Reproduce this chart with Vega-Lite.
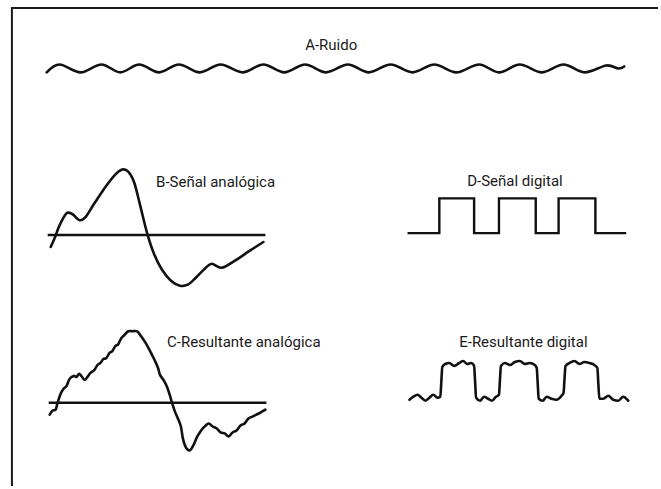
{
  "$schema": "https://vega.github.io/schema/vega-lite/v6.json",
  "width": 661,
  "height": 489,
  "autosize": {"type": "fit", "contains": "padding"},
  "padding": 0,
  "background": "white",
  "config": {"view": {"stroke": null}},
  "datasets": {
    "frame": [
      {"s": "F", "o": 1, "x": 12, "y": 489},
      {"s": "F", "o": 2, "x": 12, "y": 8},
      {"s": "F", "o": 3, "x": 661, "y": 8}
    ],
    "smooth": [
      {"s": "A", "o": 1, "x": 47, "y": 73},
      {"s": "A", "o": 2, "x": 60, "y": 65},
      {"s": "A", "o": 3, "x": 81, "y": 73},
      {"s": "A", "o": 4, "x": 102, "y": 65},
      {"s": "A", "o": 5, "x": 121, "y": 73},
      {"s": "A", "o": 6, "x": 140, "y": 65},
      {"s": "A", "o": 7, "x": 160, "y": 73},
      {"s": "A", "o": 8, "x": 180, "y": 65},
      {"s": "A", "o": 9, "x": 201, "y": 73},
      {"s": "A", "o": 10, "x": 222, "y": 65},
      {"s": "A", "o": 11, "x": 244, "y": 73},
      {"s": "A", "o": 12, "x": 265, "y": 65},
      {"s": "A", "o": 13, "x": 286, "y": 73},
      {"s": "A", "o": 14, "x": 307, "y": 65},
      {"s": "A", "o": 15, "x": 328, "y": 73},
      {"s": "A", "o": 16, "x": 350, "y": 65},
      {"s": "A", "o": 17, "x": 371, "y": 73},
      {"s": "A", "o": 18, "x": 393, "y": 65},
      {"s": "A", "o": 19, "x": 415, "y": 73},
      {"s": "A", "o": 20, "x": 437, "y": 65},
      {"s": "A", "o": 21, "x": 459, "y": 73},
      {"s": "A", "o": 22, "x": 482, "y": 65},
      {"s": "A", "o": 23, "x": 502, "y": 73},
      {"s": "A", "o": 24, "x": 523, "y": 65},
      {"s": "A", "o": 25, "x": 545, "y": 73},
      {"s": "A", "o": 26, "x": 567, "y": 65},
      {"s": "A", "o": 27, "x": 588, "y": 73},
      {"s": "A", "o": 28, "x": 610, "y": 66},
      {"s": "A", "o": 29, "x": 622, "y": 69},
      {"s": "A", "o": 30, "x": 628, "y": 67},

      {"s": "B", "o": 1, "x": 51, "y": 249},
      {"s": "B", "o": 2, "x": 55, "y": 240},
      {"s": "B", "o": 3, "x": 60, "y": 227},
      {"s": "B", "o": 4, "x": 67, "y": 215},
      {"s": "B", "o": 5, "x": 73, "y": 216},
      {"s": "B", "o": 6, "x": 80, "y": 222},
      {"s": "B", "o": 7, "x": 86, "y": 219},
      {"s": "B", "o": 8, "x": 95, "y": 205},
      {"s": "B", "o": 9, "x": 105, "y": 190},
      {"s": "B", "o": 10, "x": 115, "y": 177},
      {"s": "B", "o": 11, "x": 123, "y": 171},
      {"s": "B", "o": 12, "x": 129, "y": 173},
      {"s": "B", "o": 13, "x": 135, "y": 184},
      {"s": "B", "o": 14, "x": 141, "y": 207},
      {"s": "B", "o": 15, "x": 148, "y": 235},
      {"s": "B", "o": 16, "x": 155, "y": 256},
      {"s": "B", "o": 17, "x": 163, "y": 272},
      {"s": "B", "o": 18, "x": 172, "y": 283},
      {"s": "B", "o": 19, "x": 181, "y": 288},
      {"s": "B", "o": 20, "x": 189, "y": 287},
      {"s": "B", "o": 21, "x": 197, "y": 280},
      {"s": "B", "o": 22, "x": 206, "y": 271},
      {"s": "B", "o": 23, "x": 213, "y": 266},
      {"s": "B", "o": 24, "x": 223, "y": 270},
      {"s": "B", "o": 25, "x": 236, "y": 263},
      {"s": "B", "o": 26, "x": 251, "y": 253},
      {"s": "B", "o": 27, "x": 265, "y": 244},

      {"s": "C", "o": 1, "x": 50, "y": 418},
      {"s": "C", "o": 2, "x": 53, "y": 414},
      {"s": "C", "o": 3, "x": 56, "y": 413},
      {"s": "C", "o": 4, "x": 58, "y": 406},
      {"s": "C", "o": 5, "x": 61, "y": 397},
      {"s": "C", "o": 6, "x": 64, "y": 392},
      {"s": "C", "o": 7, "x": 67, "y": 389},
      {"s": "C", "o": 8, "x": 70, "y": 382},
      {"s": "C", "o": 9, "x": 74, "y": 379},
      {"s": "C", "o": 10, "x": 77, "y": 380},
      {"s": "C", "o": 11, "x": 80, "y": 377},
      {"s": "C", "o": 12, "x": 85, "y": 383},
      {"s": "C", "o": 13, "x": 88, "y": 380},
      {"s": "C", "o": 14, "x": 91, "y": 376},
      {"s": "C", "o": 15, "x": 95, "y": 373},
      {"s": "C", "o": 16, "x": 98, "y": 368},
      {"s": "C", "o": 17, "x": 101, "y": 366},
      {"s": "C", "o": 18, "x": 104, "y": 362},
      {"s": "C", "o": 19, "x": 107, "y": 361},
      {"s": "C", "o": 20, "x": 110, "y": 356},
      {"s": "C", "o": 21, "x": 113, "y": 354},
      {"s": "C", "o": 22, "x": 116, "y": 349},
      {"s": "C", "o": 23, "x": 119, "y": 347},
      {"s": "C", "o": 24, "x": 122, "y": 341},
      {"s": "C", "o": 25, "x": 125, "y": 338},
      {"s": "C", "o": 26, "x": 129, "y": 334},
      {"s": "C", "o": 27, "x": 133, "y": 334},
      {"s": "C", "o": 28, "x": 138, "y": 334},
      {"s": "C", "o": 29, "x": 142, "y": 339},
      {"s": "C", "o": 30, "x": 146, "y": 345},
      {"s": "C", "o": 31, "x": 150, "y": 352},
      {"s": "C", "o": 32, "x": 153, "y": 358},
      {"s": "C", "o": 33, "x": 156, "y": 364},
      {"s": "C", "o": 34, "x": 159, "y": 371},
      {"s": "C", "o": 35, "x": 161, "y": 378},
      {"s": "C", "o": 36, "x": 165, "y": 384},
      {"s": "C", "o": 37, "x": 168, "y": 390},
      {"s": "C", "o": 38, "x": 171, "y": 399},
      {"s": "C", "o": 39, "x": 173, "y": 406},
      {"s": "C", "o": 40, "x": 176, "y": 415},
      {"s": "C", "o": 41, "x": 179, "y": 422},
      {"s": "C", "o": 42, "x": 182, "y": 430},
      {"s": "C", "o": 43, "x": 184, "y": 442},
      {"s": "C", "o": 44, "x": 187, "y": 451},
      {"s": "C", "o": 45, "x": 191, "y": 454},
      {"s": "C", "o": 46, "x": 195, "y": 448},
      {"s": "C", "o": 47, "x": 198, "y": 441},
      {"s": "C", "o": 48, "x": 201, "y": 436},
      {"s": "C", "o": 49, "x": 204, "y": 432},
      {"s": "C", "o": 50, "x": 207, "y": 429},
      {"s": "C", "o": 51, "x": 210, "y": 427},
      {"s": "C", "o": 52, "x": 214, "y": 430},
      {"s": "C", "o": 53, "x": 218, "y": 432},
      {"s": "C", "o": 54, "x": 222, "y": 436},
      {"s": "C", "o": 55, "x": 226, "y": 437},
      {"s": "C", "o": 56, "x": 230, "y": 440},
      {"s": "C", "o": 57, "x": 234, "y": 436},
      {"s": "C", "o": 58, "x": 238, "y": 434},
      {"s": "C", "o": 59, "x": 242, "y": 429},
      {"s": "C", "o": 60, "x": 246, "y": 427},
      {"s": "C", "o": 61, "x": 250, "y": 422},
      {"s": "C", "o": 62, "x": 254, "y": 420},
      {"s": "C", "o": 63, "x": 258, "y": 418},
      {"s": "C", "o": 64, "x": 262, "y": 416},
      {"s": "C", "o": 65, "x": 267, "y": 413}
    ],
    "digital": [
      {"s": "E", "o": 1, "x": 412, "y": 403},
      {"s": "E", "o": 2, "x": 416, "y": 400},
      {"s": "E", "o": 3, "x": 420, "y": 398},
      {"s": "E", "o": 4, "x": 424, "y": 401},
      {"s": "E", "o": 5, "x": 428, "y": 404},
      {"s": "E", "o": 6, "x": 432, "y": 401},
      {"s": "E", "o": 7, "x": 436, "y": 398},
      {"s": "E", "o": 8, "x": 440, "y": 401},
      {"s": "E", "o": 9, "x": 443, "y": 400},
      {"s": "E", "o": 10, "x": 444, "y": 385},
      {"s": "E", "o": 11, "x": 445, "y": 370},
      {"s": "E", "o": 12, "x": 448, "y": 367},
      {"s": "E", "o": 13, "x": 452, "y": 366},
      {"s": "E", "o": 14, "x": 457, "y": 369},
      {"s": "E", "o": 15, "x": 462, "y": 366},
      {"s": "E", "o": 16, "x": 466, "y": 364},
      {"s": "E", "o": 17, "x": 470, "y": 367},
      {"s": "E", "o": 18, "x": 474, "y": 366},
      {"s": "E", "o": 19, "x": 477, "y": 369},
      {"s": "E", "o": 20, "x": 478, "y": 385},
      {"s": "E", "o": 21, "x": 479, "y": 401},
      {"s": "E", "o": 22, "x": 483, "y": 404},
      {"s": "E", "o": 23, "x": 487, "y": 400},
      {"s": "E", "o": 24, "x": 491, "y": 402},
      {"s": "E", "o": 25, "x": 495, "y": 404},
      {"s": "E", "o": 26, "x": 499, "y": 400},
      {"s": "E", "o": 27, "x": 502, "y": 398},
      {"s": "E", "o": 28, "x": 503, "y": 383},
      {"s": "E", "o": 29, "x": 504, "y": 369},
      {"s": "E", "o": 30, "x": 508, "y": 366},
      {"s": "E", "o": 31, "x": 513, "y": 368},
      {"s": "E", "o": 32, "x": 518, "y": 365},
      {"s": "E", "o": 33, "x": 523, "y": 364},
      {"s": "E", "o": 34, "x": 528, "y": 367},
      {"s": "E", "o": 35, "x": 533, "y": 366},
      {"s": "E", "o": 36, "x": 538, "y": 368},
      {"s": "E", "o": 37, "x": 540, "y": 371},
      {"s": "E", "o": 38, "x": 541, "y": 387},
      {"s": "E", "o": 39, "x": 542, "y": 402},
      {"s": "E", "o": 40, "x": 546, "y": 404},
      {"s": "E", "o": 41, "x": 550, "y": 400},
      {"s": "E", "o": 42, "x": 555, "y": 402},
      {"s": "E", "o": 43, "x": 560, "y": 403},
      {"s": "E", "o": 44, "x": 565, "y": 399},
      {"s": "E", "o": 45, "x": 567, "y": 396},
      {"s": "E", "o": 46, "x": 568, "y": 381},
      {"s": "E", "o": 47, "x": 569, "y": 369},
      {"s": "E", "o": 48, "x": 573, "y": 366},
      {"s": "E", "o": 49, "x": 578, "y": 364},
      {"s": "E", "o": 50, "x": 583, "y": 367},
      {"s": "E", "o": 51, "x": 588, "y": 365},
      {"s": "E", "o": 52, "x": 593, "y": 366},
      {"s": "E", "o": 53, "x": 598, "y": 368},
      {"s": "E", "o": 54, "x": 601, "y": 371},
      {"s": "E", "o": 55, "x": 602, "y": 387},
      {"s": "E", "o": 56, "x": 603, "y": 402},
      {"s": "E", "o": 57, "x": 607, "y": 402},
      {"s": "E", "o": 58, "x": 612, "y": 399},
      {"s": "E", "o": 59, "x": 617, "y": 403},
      {"s": "E", "o": 60, "x": 622, "y": 404},
      {"s": "E", "o": 61, "x": 627, "y": 400},
      {"s": "E", "o": 62, "x": 632, "y": 404}
    ],
    "straight": [
      {"s": "Bl", "o": 1, "x": 48, "y": 237},
      {"s": "Bl", "o": 2, "x": 267, "y": 237},
      {"s": "Cl", "o": 1, "x": 49, "y": 406},
      {"s": "Cl", "o": 2, "x": 268, "y": 406},
      {"s": "D", "o": 1, "x": 410, "y": 235},
      {"s": "D", "o": 2, "x": 442, "y": 235},
      {"s": "D", "o": 3, "x": 442, "y": 200},
      {"s": "D", "o": 4, "x": 477, "y": 200},
      {"s": "D", "o": 5, "x": 477, "y": 235},
      {"s": "D", "o": 6, "x": 502, "y": 235},
      {"s": "D", "o": 7, "x": 502, "y": 200},
      {"s": "D", "o": 8, "x": 539, "y": 200},
      {"s": "D", "o": 9, "x": 539, "y": 235},
      {"s": "D", "o": 10, "x": 562, "y": 235},
      {"s": "D", "o": 11, "x": 562, "y": 200},
      {"s": "D", "o": 12, "x": 599, "y": 200},
      {"s": "D", "o": 13, "x": 599, "y": 235},
      {"s": "D", "o": 14, "x": 630, "y": 235}
    ],
    "labels": [
      {"label": "A-Ruido", "x": 307, "y": 45},
      {"label": "B-Señal analógica", "x": 157, "y": 183},
      {"label": "C-Resultante analógica", "x": 168, "y": 345},
      {"label": "D-Señal digital", "x": 470, "y": 182},
      {"label": "E-Resultante digital", "x": 462, "y": 345}
    ]
  },
  "layer": [
    {
      "data": {"name": "frame"},
      "mark": {"type": "line", "color": "#1a1a1a", "strokeWidth": 2, "strokeCap": "square"},
      "encoding": {
        "x": {"field": "x", "type": "quantitative", "scale": {"domain": [0, 661], "nice": false, "zero": false}, "axis": null},
        "y": {"field": "y", "type": "quantitative", "scale": {"domain": [0, 489], "nice": false, "zero": false, "reverse": true}, "axis": null},
        "detail": {"field": "s"},
        "order": {"field": "o", "type": "quantitative"}
      }
    },
    {
      "data": {"name": "straight"},
      "mark": {"type": "line", "color": "#111111", "strokeWidth": 2.4, "strokeCap": "butt", "strokeJoin": "miter"},
      "encoding": {
        "x": {"field": "x", "type": "quantitative", "scale": {"domain": [0, 661], "nice": false, "zero": false}, "axis": null},
        "y": {"field": "y", "type": "quantitative", "scale": {"domain": [0, 489], "nice": false, "zero": false, "reverse": true}, "axis": null},
        "detail": {"field": "s"},
        "order": {"field": "o", "type": "quantitative"}
      }
    },
    {
      "data": {"name": "smooth"},
      "mark": {"type": "line", "color": "#111111", "strokeWidth": 2.6, "interpolate": "cardinal", "strokeCap": "round", "strokeJoin": "round"},
      "encoding": {
        "x": {"field": "x", "type": "quantitative", "scale": {"domain": [0, 661], "nice": false, "zero": false}, "axis": null},
        "y": {"field": "y", "type": "quantitative", "scale": {"domain": [0, 489], "nice": false, "zero": false, "reverse": true}, "axis": null},
        "detail": {"field": "s"},
        "order": {"field": "o", "type": "quantitative"}
      }
    },
    {
      "data": {"name": "digital"},
      "mark": {"type": "line", "color": "#111111", "strokeWidth": 2.6, "interpolate": "monotone", "strokeCap": "round", "strokeJoin": "round"},
      "encoding": {
        "x": {"field": "x", "type": "quantitative", "scale": {"domain": [0, 661], "nice": false, "zero": false}, "axis": null},
        "y": {"field": "y", "type": "quantitative", "scale": {"domain": [0, 489], "nice": false, "zero": false, "reverse": true}, "axis": null},
        "detail": {"field": "s"},
        "order": {"field": "o", "type": "quantitative"}
      }
    },
    {
      "data": {"name": "labels"},
      "mark": {"type": "text", "align": "left", "baseline": "middle", "font": "Roboto", "fontSize": 15, "color": "#1a1a1a"},
      "encoding": {
        "x": {"field": "x", "type": "quantitative", "scale": {"domain": [0, 661], "nice": false, "zero": false}, "axis": null},
        "y": {"field": "y", "type": "quantitative", "scale": {"domain": [0, 489], "nice": false, "zero": false, "reverse": true}, "axis": null},
        "text": {"field": "label"}
      }
    }
  ]
}
